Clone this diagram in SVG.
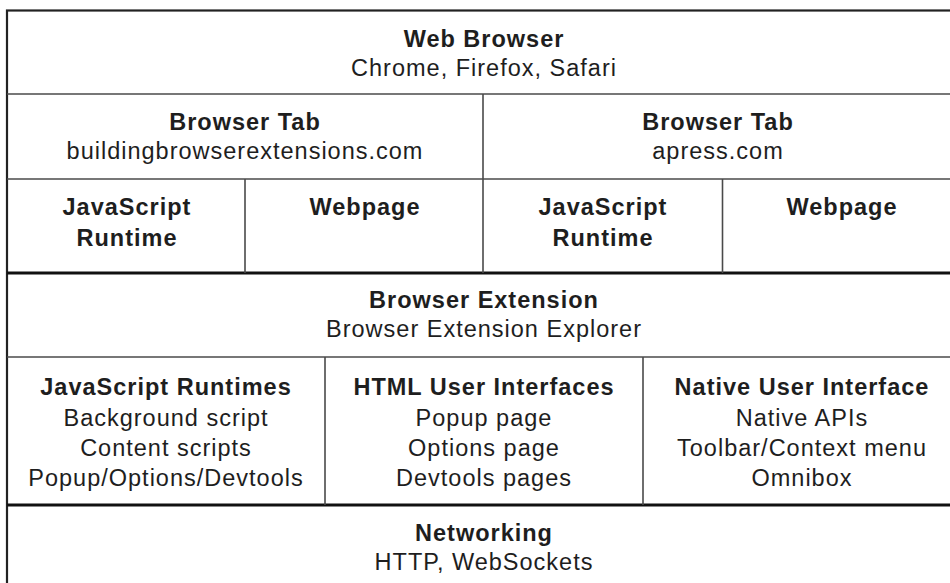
<svg xmlns="http://www.w3.org/2000/svg" width="950" height="583" viewBox="0 0 950 583">
<style>
text{font-family:"Liberation Sans",Arial,Helvetica,sans-serif;font-size:23.5px;fill:#1e1e1e;text-anchor:middle;letter-spacing:1px}
.b{font-weight:bold}
.thin{stroke:#4a4a4a;stroke-width:1.6;fill:none}
.thick{stroke:#111;stroke-width:3.2;fill:none}
.border{stroke:#222;stroke-width:2.2;fill:none}
</style>
<rect x="0" y="0" width="950" height="583" fill="#fff"/>
<g id="grid">
<rect class="border" x="7" y="10.5" width="954" height="600"/>
<line class="thin" x1="7" y1="94" x2="961" y2="94"/>
<line class="thin" x1="7" y1="179" x2="961" y2="179"/>
<line class="thick" x1="7" y1="273" x2="961" y2="273"/>
<line class="thin" x1="7" y1="357" x2="961" y2="357"/>
<line class="thick" x1="7" y1="505" x2="961" y2="505"/>
<line class="thin" x1="483" y1="94" x2="483" y2="273"/>
<line class="thin" x1="245" y1="179" x2="245" y2="273"/>
<line class="thin" x1="722.5" y1="179" x2="722.5" y2="273"/>
<line class="thin" x1="325" y1="357" x2="325" y2="505"/>
<line class="thin" x1="643" y1="357" x2="643" y2="505"/>
</g>
<g id="web-browser">
<text class="b" x="484" y="47">Web Browser</text>
<text x="484" y="76">Chrome, Firefox, Safari</text>
</g>
<g id="tab-left">
<text class="b" x="245" y="130">Browser Tab</text>
<text x="245" y="159">buildingbrowserextensions.com</text>
</g>
<g id="tab-right">
<text class="b" x="718" y="130">Browser Tab</text>
<text x="718" y="159">apress.com</text>
</g>
<g id="js-runtime-left">
<text class="b" x="127" y="215">JavaScript</text>
<text class="b" x="127" y="246">Runtime</text>
</g>
<g id="webpage-left">
<text class="b" x="365" y="215">Webpage</text>
</g>
<g id="js-runtime-right">
<text class="b" x="603" y="215">JavaScript</text>
<text class="b" x="603" y="246">Runtime</text>
</g>
<g id="webpage-right">
<text class="b" x="842" y="215">Webpage</text>
</g>
<g id="browser-extension">
<text class="b" x="484" y="308">Browser Extension</text>
<text x="484" y="337">Browser Extension Explorer</text>
</g>
<g id="js-runtimes">
<text class="b" x="166" y="395">JavaScript Runtimes</text>
<text x="166" y="425.5">Background script</text>
<text x="166" y="456">Content scripts</text>
<text x="166" y="486">Popup/Options/Devtools</text>
</g>
<g id="html-ui">
<text class="b" x="484" y="395">HTML User Interfaces</text>
<text x="484" y="425.5">Popup page</text>
<text x="484" y="456">Options page</text>
<text x="484" y="486">Devtools pages</text>
</g>
<g id="native-ui">
<text class="b" x="802" y="395">Native User Interface</text>
<text x="802" y="425.5">Native APIs</text>
<text x="802" y="456">Toolbar/Context menu</text>
<text x="802" y="486">Omnibox</text>
</g>
<g id="networking">
<text class="b" x="484" y="541">Networking</text>
<text x="484" y="570">HTTP, WebSockets</text>
</g>
<g id="connectors"></g>
</svg>
